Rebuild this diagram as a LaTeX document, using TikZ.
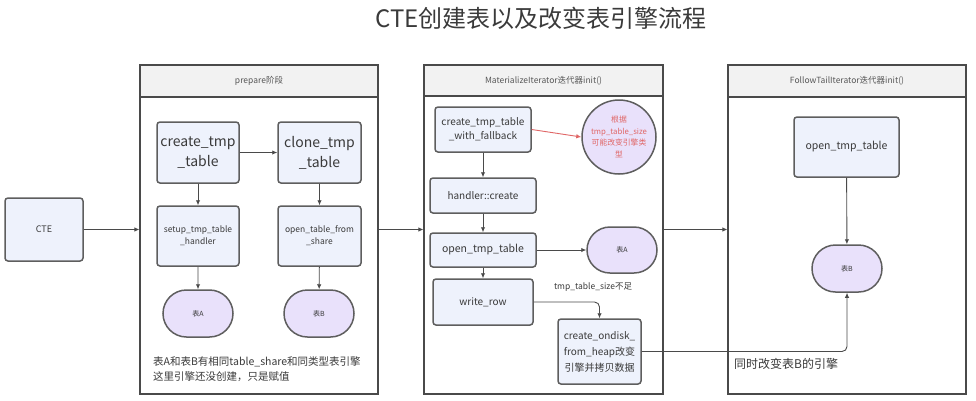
\documentclass[tikz,border=0pt]{standalone}
\usepackage{fontspec}
\setmainfont{Noto Sans CJK SC}
\usetikzlibrary{arrows.meta,shapes.misc,shapes.geometric}
\definecolor{boxfill}{HTML}{EEF2FC}
\definecolor{boxline}{HTML}{5E5E5E}
\definecolor{stadfill}{HTML}{E9E1FB}
\definecolor{headfill}{HTML}{F2F2F2}
\definecolor{txt}{HTML}{3A3A3A}
\definecolor{redtxt}{HTML}{E06666}
\definecolor{conn}{HTML}{4A4A4A}
\tikzset{
  panel/.style={draw=conn, line width=1.2pt, fill=white, rectangle, inner sep=0pt},
  head/.style={draw=conn, line width=1.2pt, fill=headfill, rectangle, inner sep=0pt, font=\fontsize{8.5}{10}\selectfont, text=txt!85},
  proc/.style={draw=boxline, line width=1.5pt, fill=boxfill, rectangle, rounded corners=3pt, align=center, inner sep=2pt, text=txt},
  stad/.style={draw=boxline, line width=1.5pt, fill=stadfill, rounded rectangle, inner sep=0pt, text=txt, font=\fontsize{7}{8}\selectfont},
  circ/.style={draw=boxline, line width=1.5pt, fill=stadfill, circle, inner sep=0pt, align=center, text=redtxt, font=\fontsize{7.8}{11.5}\selectfont},
  arr/.style={draw=conn, line width=0.9pt, -{Latex[length=5pt,width=4.5pt]}},
  lbl/.style={text=txt, inner sep=0pt}
}
\begin{document}
\begin{tikzpicture}[x=1pt,y=-1pt]
\useasboundingbox (0,0) rectangle (976,400);
% title
\node[lbl, font=\fontsize{24}{28}\selectfont] (title) at (541,18) {CTE创建表以及改变表引擎流程};

% panels
\node[panel, minimum width=238pt, minimum height=329pt] (p1) at (259,229.5) {};
\node[head, minimum width=238pt, minimum height=32pt] (h1) at (259,81) {prepare阶段};
\node[panel, minimum width=239pt, minimum height=329pt] (p2) at (543.5,229.5) {};
\node[head, minimum width=239pt, minimum height=31pt] (h2) at (543.5,80.5) {MaterializeIterator迭代器init()};
\node[panel, minimum width=238pt, minimum height=329pt] (p3) at (847,229.5) {};
\node[head, minimum width=238pt, minimum height=32pt] (h3) at (847,81) {FollowTailIterator迭代器init()};

% CTE
\node[proc, minimum width=78pt, minimum height=63pt, font=\fontsize{9}{11}\selectfont] (cte) at (44,229.5) {CTE};

% panel 1
\node[proc, minimum width=82pt, minimum height=61pt, font=\fontsize{14}{20}\selectfont] (ctt) at (198,152.5) {create\_tmp\\\_table};
\node[proc, minimum width=83pt, minimum height=61pt, font=\fontsize{14}{20}\selectfont] (clone) at (319.5,152.5) {clone\_tmp\\\_table};
\node[proc, minimum width=82pt, minimum height=60pt, font=\fontsize{8.5}{12}\selectfont] (setup) at (198,236) {setup\_tmp\_table\\\_handler};
\node[proc, minimum width=83pt, minimum height=60pt, font=\fontsize{8.5}{12}\selectfont] (otfs) at (319.5,236) {open\_table\_from\\\_share};
\node[stad, minimum width=70pt, minimum height=47pt] (ta1) at (198,313.5) {表A};
\node[stad, minimum width=70pt, minimum height=47pt] (tb1) at (319,313.5) {表B};
\node[lbl, anchor=west, align=left, font=\fontsize{10.5}{15}\selectfont] (note1) at (153,369.5) {表A和表B有相同table\_share和同类型表引擎\\这里引擎还没创建，只是赋值};

\draw[arr] (ctt) -- (clone);
\draw[arr] (ctt) -- (setup);
\draw[arr] (clone) -- (otfs);
\draw[arr] (setup) -- (ta1);
\draw[arr] (otfs) -- (tb1);

% panel 2
\node[proc, minimum width=96pt, minimum height=45pt, font=\fontsize{10}{14}\selectfont] (cf) at (483,129.5) {create\_tmp\_table\\\_with\_fallback};
\node[circ, minimum size=74pt] (ci) at (619,137) {根据\\tmp\_table\_size\\可能改变引擎类\\型};
\node[proc, minimum width=106pt, minimum height=35pt, font=\fontsize{10}{12}\selectfont] (hc) at (483,195.5) {handler::create};
\node[proc, minimum width=106pt, minimum height=34pt, font=\fontsize{10.5}{12}\selectfont] (ot) at (483,250) {open\_tmp\_table};
\node[stad, minimum width=70pt, minimum height=46pt] (ta2) at (622,250) {表A};
\node[proc, minimum width=100pt, minimum height=46pt, font=\fontsize{10}{12}\selectfont] (wr) at (483,302) {write\_row};
\node[proc, minimum width=83pt, minimum height=65pt, font=\fontsize{10}{16}\selectfont] (od) at (599.5,351.5) {create\_ondisk\_\\from\_heap改变\\引擎并拷贝数据};
\node[lbl, font=\fontsize{8.5}{10}\selectfont] (lsz) at (593,287) {tmp\_table\_size不足};

\draw[arr, draw=redtxt] (cf.east) -- (ci.west);
\draw[arr] (cf) -- (hc);
\draw[arr] (hc) -- (ot);
\draw[arr] (ot) -- (wr);
\draw[arr] (ot) -- (ta2);
\draw[arr, rounded corners=5pt] (wr.east) -| (od.north);

% panel 3
\node[proc, minimum width=105pt, minimum height=60pt, font=\fontsize{10.5}{12}\selectfont] (ot3) at (846.5,147) {open\_tmp\_table};
\node[stad, minimum width=70pt, minimum height=47pt] (tb3) at (847,268.5) {表B};
\node[lbl, anchor=west, font=\fontsize{12}{14}\selectfont] (lch) at (734,364) {同时改变表B的引擎};
\draw[arr] (ot3) -- (tb3);
\draw[arr, rounded corners=5pt] (od.east) -| (tb3.south);

% panel connections
\draw[arr] (cte) -- (p1);
\draw[arr] (p1) -- (p2);
\draw[arr] (p2) -- (p3);
\end{tikzpicture}
\end{document}
